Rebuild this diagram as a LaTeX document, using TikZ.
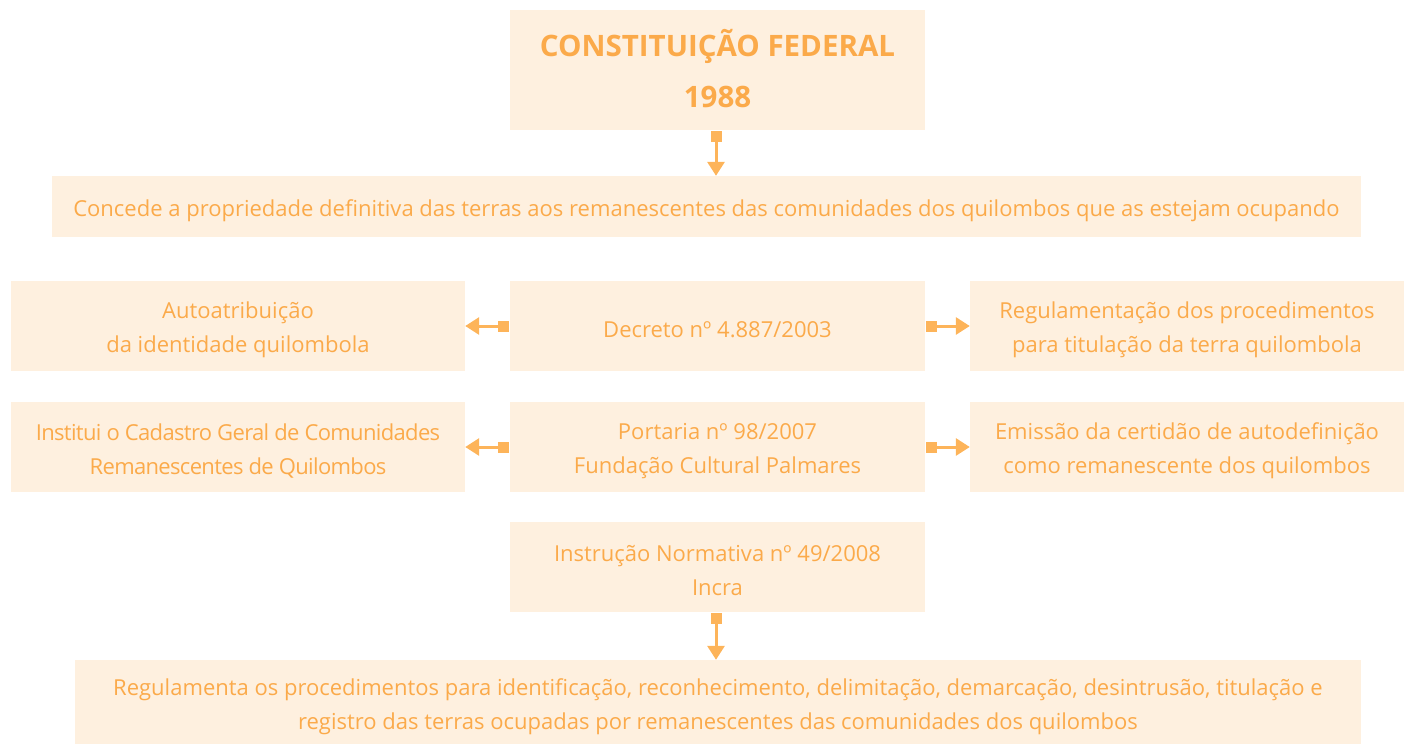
\documentclass[tikz,border=0pt]{standalone}
\usepackage{fontspec}
\setmainfont{Open Sans}
\usetikzlibrary{arrows.meta}
\definecolor{boxfill}{HTML}{FEF0DF}
\definecolor{txt}{HTML}{FBAA4A}
\definecolor{arr}{HTML}{FDB45A}
\tikzset{
  box/.style={rectangle, fill=boxfill, draw=none, inner sep=0pt},
  lbl/.style={inner sep=0pt, align=center, text=txt, font=\fontsize{22}{34}\selectfont},
  txtin/.style={label={[lbl,yshift=-4]center:{#1}}},
  conn/.style={draw=arr, line width=3pt, {Square[length=11pt,width=11pt]}-{Triangle[width=17pt,length=14pt]}, shorten <=0.5pt}
}
\begin{document}
\begin{tikzpicture}[x=1pt,y=-1pt]
\useasboundingbox (0,0) rectangle (1404,744);
\node[box, minimum width=415, minimum height=120,
  label={[lbl,yshift=1,font=\fontsize{29.5}{51}\selectfont\bfseries]center:{CONSTITUIÇÃO FEDERAL\\1988}}] (cf) at (717.5,70) {};
\node[box, minimum width=1309, minimum height=61,
  txtin={Concede a propriedade definitiva das terras aos remanescentes das comunidades dos quilombos que as estejam ocupando}] (con) at (706.5,206.5) {};
\node[box, minimum width=415, minimum height=90, txtin={Decreto nº 4.887/2003}] (dec) at (717.5,326) {};
\node[box, minimum width=454, minimum height=90, txtin={Autoatribuição\\da identidade quilombola}] (aut) at (238,326) {};
\node[box, minimum width=434, minimum height=90, txtin={Regulamentação dos procedimentos\\para titulação da terra quilombola}] (reg) at (1187,326) {};
\node[box, minimum width=415, minimum height=90, txtin={Portaria nº 98/2007\\Fundação Cultural Palmares}] (por) at (717.5,447) {};
\node[box, minimum width=454, minimum height=90,
  label={[lbl,yshift=-4,font=\fontsize{22}{34}\selectfont\addfontfeature{LetterSpace=-3}]center:{Institui o Cadastro Geral de Comunidades\\Remanescentes de Quilombos}}] (ins) at (238,447) {};
\node[box, minimum width=434, minimum height=90, txtin={Emissão da certidão de autodefinição\\como remanescente dos quilombos}] (emi) at (1187,447) {};
\node[box, minimum width=415, minimum height=90, txtin={Instrução Normativa nº 49/2008\\Incra}] (inn) at (717.5,567) {};
\node[box, minimum width=1286, minimum height=84,
  label={[lbl,yshift=-5]center:{Regulamenta os procedimentos para identificação, reconhecimento, delimitação, demarcação, desintrusão, titulação e\\registro das terras ocupadas por remanescentes das comunidades dos quilombos}}] (rgb) at (718,702) {};
\draw[conn] (cf.south -| 716,0) -- (con.north -| 716,0);
\draw[conn] (dec.west) -- (aut.east);
\draw[conn] (dec.east) -- (reg.west);
\draw[conn] (por.west) -- (ins.east);
\draw[conn] (por.east) -- (emi.west);
\draw[conn] (inn.south -| 716,0) -- (rgb.north -| 716,0);
\end{tikzpicture}
\end{document}
